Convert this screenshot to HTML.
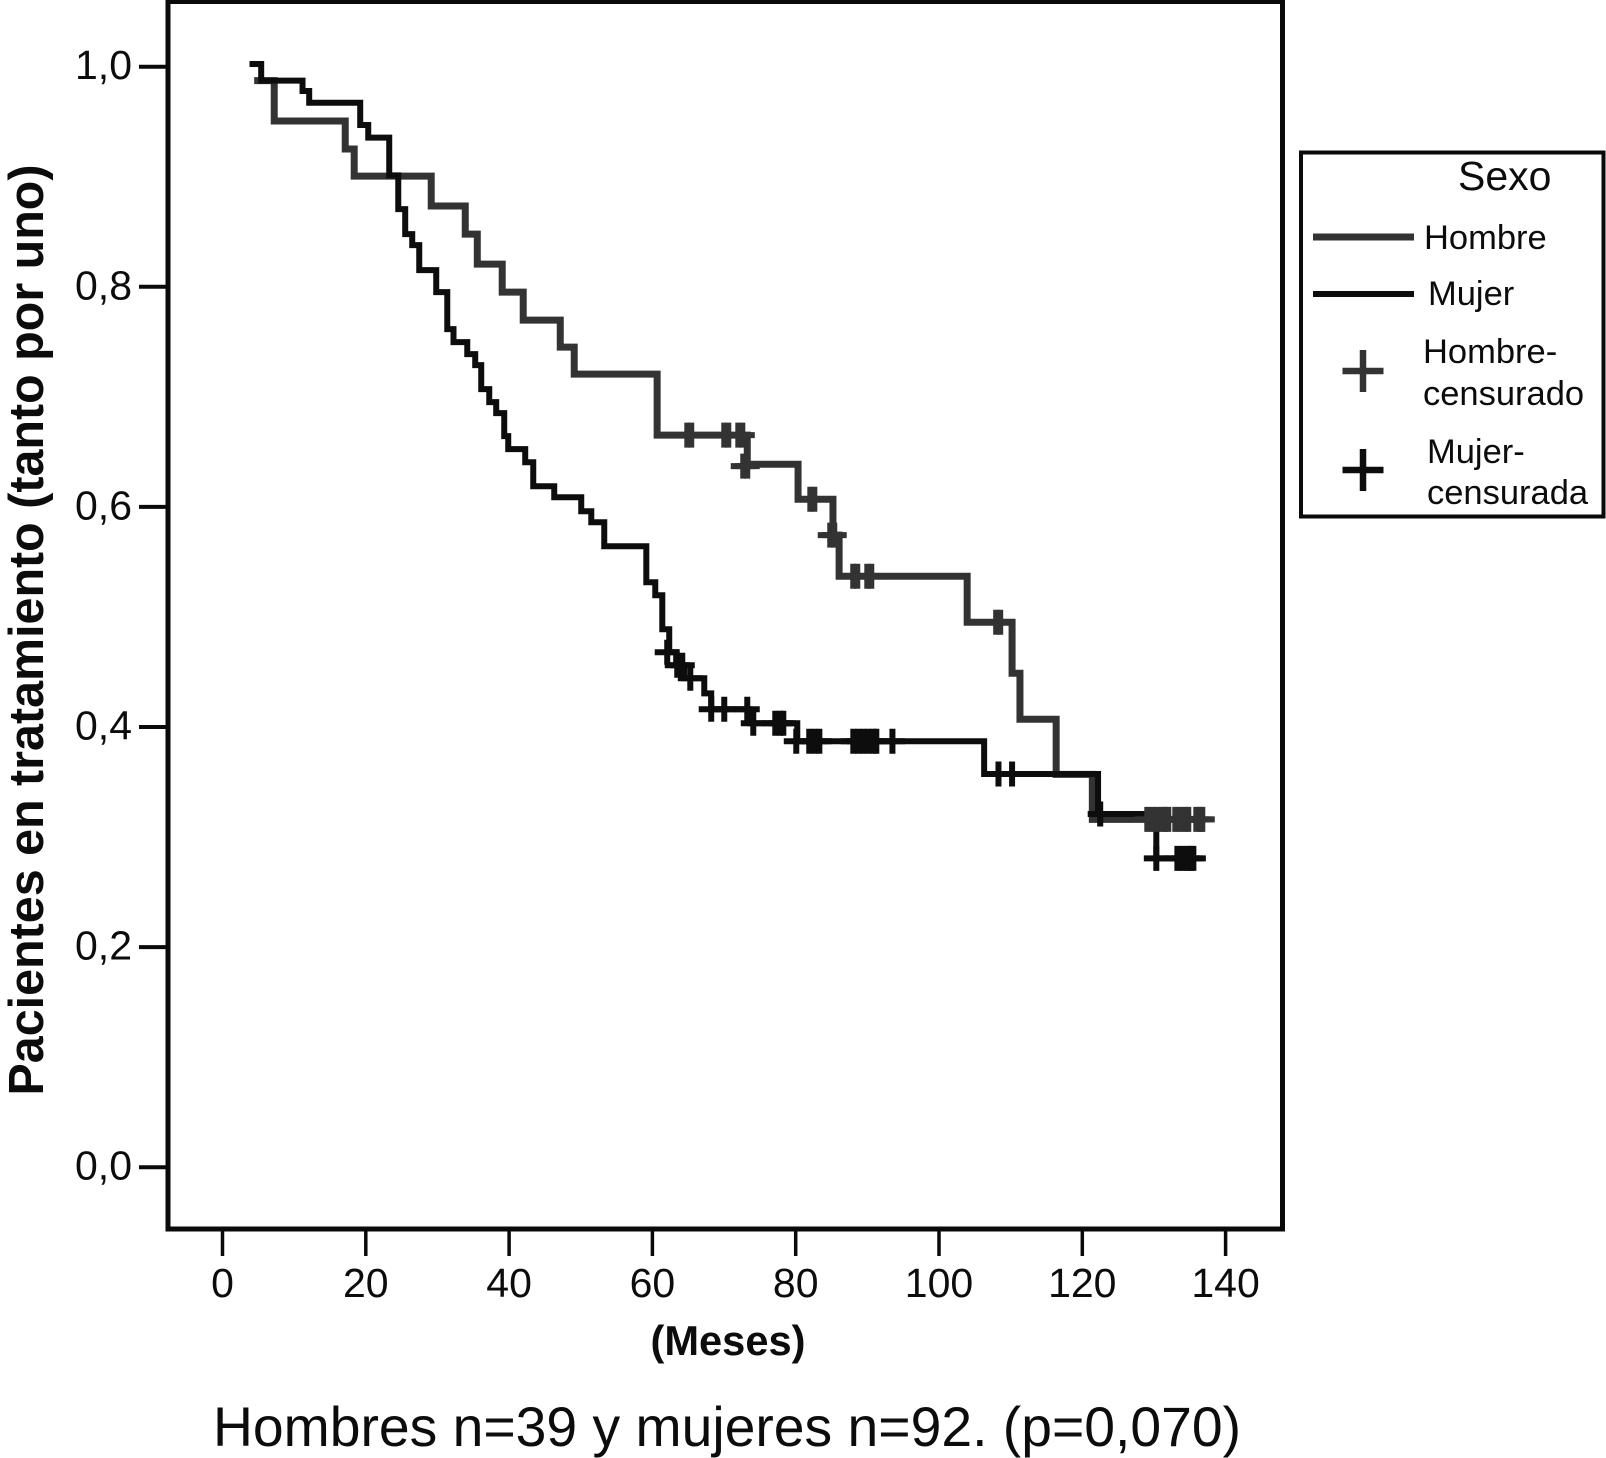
<!DOCTYPE html>
<html lang="es">
<head>
<meta charset="utf-8">
<title>Pacientes en tratamiento</title>
<style>
html,body{margin:0;padding:0;background:#fff;}
svg{display:block;font-family:"Liberation Sans",Arial,sans-serif;}
text{fill:#0c0c0c;}
</style>
</head>
<body>
<svg id="chart" xmlns="http://www.w3.org/2000/svg" width="1606" height="1458" viewBox="0 0 1606 1458">
  <rect x="0" y="0" width="1606" height="1458" fill="#fff"/>
  <g id="curves"></g>
  <rect x="168" y="1.5" width="1114.5" height="1227.5" fill="none" stroke="#0a0a0a" stroke-width="5"/>
  <g id="axes"></g>
  <text transform="translate(43 630) rotate(-90)" text-anchor="middle" font-size="49" font-weight="bold" textLength="931" lengthAdjust="spacingAndGlyphs">Pacientes en tratamiento (tanto por uno)</text>
  <text x="728" y="1355" text-anchor="middle" font-size="42" font-weight="bold" textLength="155" lengthAdjust="spacingAndGlyphs">(Meses)</text>
  <text x="213" y="1446" font-size="56" textLength="1028" lengthAdjust="spacingAndGlyphs">Hombres n=39 y mujeres n=92. (p=0,070)</text>
  <g>
    <rect x="1301" y="152.5" width="302.5" height="364" fill="#fff" stroke="#0a0a0a" stroke-width="4"/>
    <text x="1458" y="190" font-size="41">Sexo</text>
    <line x1="1313" y1="237" x2="1414" y2="237" stroke="#333" stroke-width="7"/>
    <text x="1424" y="249" font-size="34.5">Hombre</text>
    <line x1="1313" y1="294" x2="1414" y2="294" stroke="#0d0d0d" stroke-width="6"/>
    <text x="1428" y="305" font-size="34.5">Mujer</text>
    <path d="M1342.5 371H1383.5M1363 350V392" fill="none" stroke="#333" stroke-width="6.5"/>
    <text font-size="34.5"><tspan x="1423" y="363">Hombre-</tspan><tspan x="1423" y="405">censurado</tspan></text>
    <path d="M1342.5 470H1383.5M1363 449V491" fill="none" stroke="#0d0d0d" stroke-width="6.5"/>
    <text font-size="34.5"><tspan x="1427" y="463">Mujer-</tspan><tspan x="1427" y="504">censurada</tspan></text>
  </g>
</svg>
<script>
// Tick labels
const xTicks = [0, 20, 40, 60, 80, 100, 120, 140];
const yTicks = [0, 0.2, 0.4, 0.6, 0.8, 1.0];
const yTickLabels = ['0,0', '0,2', '0,4', '0,6', '0,8', '1,0'];

// Hombre survival steps (months, proportion)
const hombreTimes = [4.42, 7.22, 17.13, 18.38, 29.13, 33.88, 35.56, 39.04, 41.97, 47.14, 49.09, 60.66, 73.24, 80.33, 85.2, 86.06, 103.93, 110.2, 111.3, 116.35, 121.4, 136.75];
const hombreSurvival = [0.9873, 0.9506, 0.9252, 0.9006, 0.8734, 0.8479, 0.8206, 0.7952, 0.7697, 0.7452, 0.7206, 0.6652, 0.6388, 0.607, 0.5743, 0.537, 0.4952, 0.4488, 0.407, 0.357, 0.3161, 0.3161];

// Mujer survival steps (months, proportion)
const mujerTimes = [3.77, 5.4, 11.17, 12.1, 19.22, 20.34, 23.27, 24.53, 25.5, 26.48, 27.46, 29.83, 31.37, 32.24, 34.16, 35.27, 36.11, 37.23, 38.2, 39.32, 39.88, 42.25, 43.37, 46.3, 50.07, 51.47, 53.28, 59.15, 60.4, 61.38, 62.35, 63.32, 64.44, 67.24, 68.21, 73.6, 80.22, 106.3, 122.2, 130.33, 135.5];
const mujerSurvival = [1.0024, 0.9873, 0.9779, 0.9673, 0.947, 0.9355, 0.9013, 0.8706, 0.8479, 0.8379, 0.8152, 0.7952, 0.7615, 0.7497, 0.7388, 0.7288, 0.707, 0.6952, 0.6852, 0.6643, 0.6525, 0.6406, 0.6188, 0.6088, 0.5961, 0.5861, 0.5643, 0.5315, 0.5197, 0.4888, 0.4679, 0.4561, 0.4443, 0.4306, 0.4161, 0.4034, 0.387, 0.3573, 0.3209, 0.2806, 0.2806];

// Censored observations
const hombreCensorTimes = [64.87, 65.42, 70.03, 70.59, 71.99, 72.55, 72.68, 73.24, 82.04, 82.6, 84.82, 85.38, 88.03, 88.59, 89.99, 90.55, 107.98, 108.54, 129.07, 129.77, 130.47, 131.17, 131.59, 132.0, 132.98, 133.68, 134.38, 134.79, 135.91, 136.47, 136.75];
const hombreCensorSurvival = [0.6652, 0.6652, 0.6652, 0.6652, 0.6652, 0.6652, 0.637, 0.637, 0.607, 0.607, 0.5743, 0.5743, 0.537, 0.537, 0.537, 0.537, 0.4952, 0.4952, 0.3161, 0.3161, 0.3161, 0.3161, 0.3161, 0.3161, 0.3161, 0.3161, 0.3161, 0.3161, 0.3161, 0.3161, 0.3161];
const mujerCensorTimes = [62.07, 63.47, 64.17, 65.29, 68.21, 70.03, 73.24, 74.08, 77.15, 77.85, 78.27, 80.08, 81.89, 82.6, 83.3, 88.04, 88.74, 89.44, 90.14, 90.83, 91.25, 93.5, 108.3, 110.2, 122.5, 130.33, 133.27, 133.97, 134.66, 135.08, 135.5];
const mujerCensorSurvival = [0.4679, 0.4561, 0.4561, 0.4443, 0.4161, 0.4161, 0.4161, 0.4034, 0.4034, 0.4034, 0.4034, 0.387, 0.387, 0.387, 0.387, 0.387, 0.387, 0.387, 0.387, 0.387, 0.387, 0.387, 0.3573, 0.3573, 0.3209, 0.2806, 0.2806, 0.2806, 0.2806, 0.2806, 0.2806];

const SVG_NS = 'http://www.w3.org/2000/svg';
const xScale = function (t) { return 222.5 + 7.165 * t; };
const yScale = function (s) { return 1167.2 - 1100.5 * s; };
const curves = document.getElementById('curves');
const axes = document.getElementById('axes');

function stepPath(times, survival) {
  let d = 'M' + xScale(times[0]).toFixed(2) + ' ' + yScale(survival[0]).toFixed(2);
  for (let i = 1; i < times.length; i++) {
    d += 'H' + xScale(times[i]).toFixed(2) + 'V' + yScale(survival[i]).toFixed(2);
  }
  return d;
}

function drawCurve(times, survival, color, width, name) {
  const p = document.createElementNS(SVG_NS, 'path');
  p.setAttribute('d', stepPath(times, survival));
  p.setAttribute('fill', 'none');
  p.setAttribute('stroke', color);
  p.setAttribute('stroke-width', width);
  p.setAttribute('stroke-linejoin', 'miter');
  
  
  curves.appendChild(p);
}

function drawCensors(times, survival, color, name) {
  for (let i = 0; i < times.length; i++) {
    const cx = xScale(times[i]);
    const cy = yScale(survival[i]);
    const m = document.createElementNS(SVG_NS, 'path');
    m.setAttribute('d', 'M' + (cx - 12.5).toFixed(2) + ' ' + cy.toFixed(2) + 'H' + (cx + 12.5).toFixed(2) + 'M' + cx.toFixed(2) + ' ' + (cy - 12.5).toFixed(2) + 'V' + (cy + 12.5).toFixed(2));
    m.setAttribute('fill', 'none');
    m.setAttribute('stroke', color);
    m.setAttribute('stroke-width', '6');
    
    
    curves.appendChild(m);
  }
}

drawCurve(hombreTimes, hombreSurvival, '#333333', 7, 'hombre-curve');
drawCurve(mujerTimes, mujerSurvival, '#0d0d0d', 6, 'mujer-curve');
drawCensors(mujerCensorTimes, mujerCensorSurvival, '#0d0d0d', 'mujer-censored-mark');
drawCensors(hombreCensorTimes, hombreCensorSurvival, '#333333', 'hombre-censored-mark');

xTicks.forEach(function (t) {
  const tick = document.createElementNS(SVG_NS, 'line');
  tick.setAttribute('x1', xScale(t));
  tick.setAttribute('x2', xScale(t));
  tick.setAttribute('y1', 1229);
  tick.setAttribute('y2', 1256);
  tick.setAttribute('stroke', '#0a0a0a');
  tick.setAttribute('stroke-width', '3.5');
  
  
  axes.appendChild(tick);
  const label = document.createElementNS(SVG_NS, 'text');
  label.setAttribute('x', xScale(t));
  label.setAttribute('y', 1297);
  label.setAttribute('text-anchor', 'middle');
  label.setAttribute('font-size', '41');
  
  
  label.textContent = String(t);
  axes.appendChild(label);
});

yTicks.forEach(function (v, i) {
  const tick = document.createElementNS(SVG_NS, 'line');
  tick.setAttribute('x1', 139);
  tick.setAttribute('x2', 168);
  tick.setAttribute('y1', yScale(v));
  tick.setAttribute('y2', yScale(v));
  tick.setAttribute('stroke', '#0a0a0a');
  tick.setAttribute('stroke-width', '4');
  
  
  axes.appendChild(tick);
  const label = document.createElementNS(SVG_NS, 'text');
  label.setAttribute('x', 132);
  label.setAttribute('y', yScale(v) + 12.5);
  label.setAttribute('text-anchor', 'end');
  label.setAttribute('font-size', '41');
  
  
  label.textContent = yTickLabels[i];
  axes.appendChild(label);
});
</script>
</body>
</html>
